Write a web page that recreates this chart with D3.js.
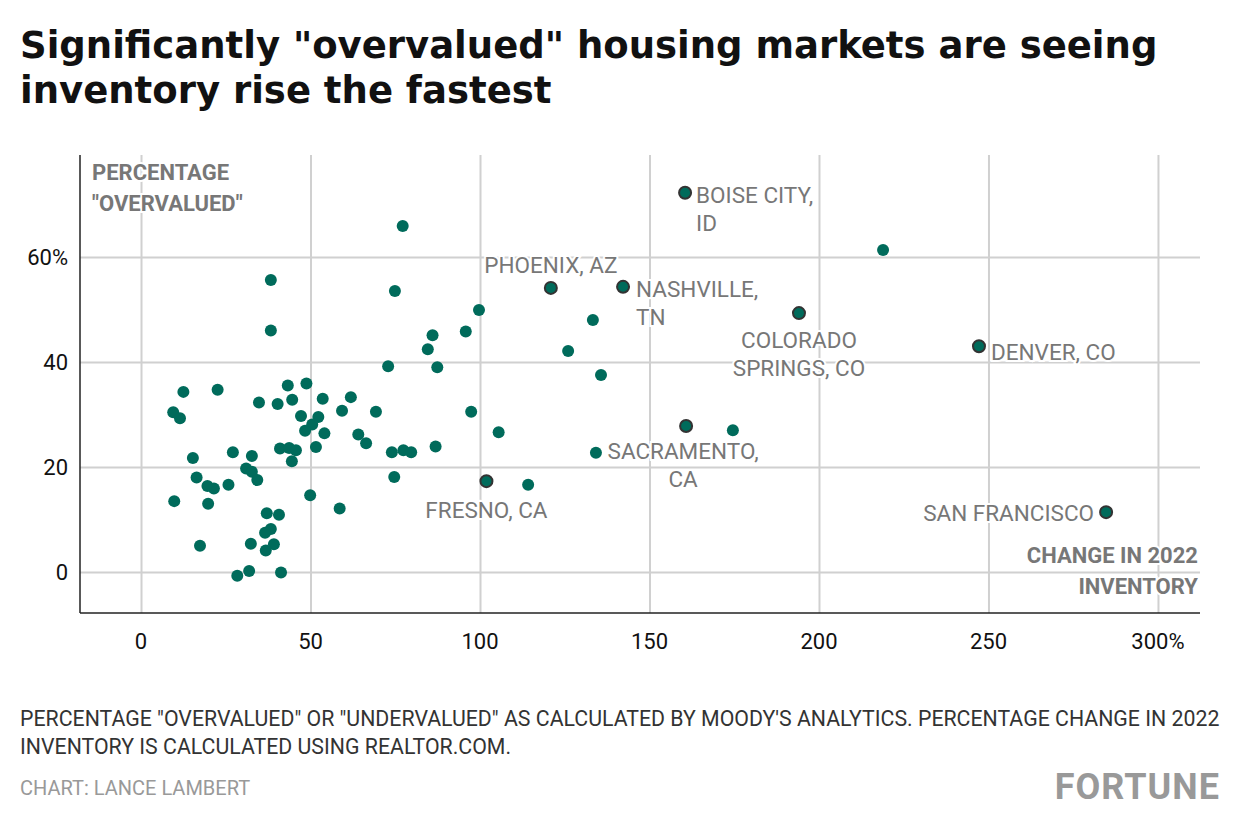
<!DOCTYPE html>
<html><head><meta charset="utf-8">
<script src="https://cdn.jsdelivr.net/npm/d3@7"></script>
<style>body{margin:0;background:#fff}</style></head>
<body><svg id="c" width="1240" height="840"></svg>
<script>
const inventoryChange=[77.2,38.3,74.9,99.7,38.3,86.0,95.8,84.6,72.9,87.4,12.5,22.6,43.3,48.8,34.8,40.3,44.6,53.6,61.9,9.5,11.5,59.3,69.3,47.2,52.3,50.5,48.4,54.1,97.4,105.5,64.1,66.4,86.9,51.6,41.0,43.7,45.7,44.5,27.1,32.7,15.3,74.0,77.4,79.7,31.0,32.7,34.3,16.4,19.6,21.5,25.8,74.7,9.8,19.8,49.9,58.6,37.1,40.7,38.3,36.6,17.4,32.4,39.2,36.8,28.4,31.9,41.3,133.3,126.0,135.7,134.2,114.2,174.6,218.9];
const overvalued=[65.9,55.6,53.5,49.9,46.0,45.1,45.8,42.4,39.2,39.0,34.3,34.7,35.5,35.9,32.3,32.0,32.8,33.0,33.3,30.4,29.3,30.7,30.5,29.7,29.5,28.1,26.9,26.4,30.5,26.6,26.2,24.5,23.9,23.8,23.5,23.6,23.2,21.1,22.8,22.1,21.7,22.8,23.2,22.8,19.7,19.1,17.5,18.0,16.4,15.9,16.6,18.1,13.5,13.0,14.6,12.1,11.2,10.9,8.2,7.5,5.0,5.4,5.3,4.1,-0.7,0.2,-0.1,48.0,42.1,37.5,22.7,16.6,27.0,61.3];
const cities=["BOISE CITY,|ID","PHOENIX, AZ","NASHVILLE,|TN","COLORADO|SPRINGS, CO","DENVER, CO","SACRAMENTO,|CA","FRESNO, CA","SAN FRANCISCO"];
const cityX=[160.5,120.9,142.2,194.1,247.2,160.8,101.9,284.7];
const cityY=[72.2,54.1,54.3,49.3,43.0,27.8,17.3,11.4];
const xTicks=[0,50,100,150,200,250,300];
const yTicks=[0,20,40,60];

const svg=d3.select("#c");
const F='Roboto,sans-serif';
const x=d3.scaleLinear().domain([-18,312.4]).range([80,1200]);
const y=d3.scaleLinear().domain([-7.8,79.4]).range([613,155]);
const green="#006b5b";

[['Significantly "overvalued" housing markets are seeing',58],['inventory rise the fastest',103]].forEach(([t,yy])=>
 svg.append("text").attr("x",20).attr("y",yy).attr("font-family","DejaVu Sans,sans-serif").attr("font-weight",700).attr("font-size",37).attr("fill","#111").text(t));

const g=svg.append("g");
g.append("g").attr("transform","translate(0,613)").call(d3.axisBottom(x).tickValues(xTicks).tickSize(-458).tickFormat(""))
 .call(a=>{a.selectAll("line").attr("stroke","#d0d0d0").attr("stroke-width",2);a.select(".domain").remove();});
g.append("g").attr("transform","translate(80,0)").call(d3.axisLeft(y).tickValues(yTicks).tickSize(-1120).tickFormat(""))
 .call(a=>{a.selectAll("line").attr("stroke","#d0d0d0").attr("stroke-width",2);a.select(".domain").remove();});
g.append("line").attr("x1",80).attr("x2",80).attr("y1",155).attr("y2",613).attr("stroke","#222").attr("stroke-width",1.5);
g.append("line").attr("x1",80).attr("x2",1200).attr("y1",613).attr("y2",613).attr("stroke","#222").attr("stroke-width",1.5);

xTicks.forEach(t=>svg.append("text").attr("x",x(t)).attr("y",649).attr("text-anchor","middle").attr("font-family",F).attr("font-size",22).attr("fill","#111").text(t===300?"300%":t));
yTicks.forEach(t=>svg.append("text").attr("x",68).attr("y",y(t)+8).attr("text-anchor","end").attr("font-family",F).attr("font-size",22).attr("fill","#111").text(t===60?"60%":t));

svg.selectAll(".d").data(inventoryChange).enter().append("circle").attr("cx",d=>x(d)).attr("cy",(d,i)=>y(overvalued[i])).attr("r",6).attr("fill",green);

const off=[[11,10,"start"],[0,-15,"middle"],[13,10,"start"],[0,35,"middle"],[12,14,"start"],[-3,33,"middle"],[0,37,"middle"],[-12,9,"end"]];
cities.forEach((c,i)=>{
  c.split("|").forEach((l,j)=>{
    const o=off[i];
    svg.append("text").attr("x",x(cityX[i])+o[0]).attr("y",y(cityY[i])+o[1]+j*28).attr("text-anchor",o[2]).attr("font-family",F).attr("font-size",22.5)
      .attr("fill","#777").attr("stroke","#fff").attr("stroke-width",4).attr("paint-order","stroke").text(l);
  });
});
svg.selectAll(".h").data(cityX).enter().append("circle").attr("cx",d=>x(d)).attr("cy",(d,i)=>y(cityY[i])).attr("r",6).attr("fill",green).attr("stroke","#333").attr("stroke-width",2);

const lab=(tx,xx,yy,anc)=>svg.append("text").attr("x",xx).attr("y",yy).attr("text-anchor",anc).attr("font-family",F).attr("font-weight",700).attr("font-size",22).attr("fill","#777").attr("stroke","#fff").attr("stroke-width",4).attr("paint-order","stroke").text(tx);
lab("PERCENTAGE",92,180,"start");lab('"OVERVALUED"',92,211,"start");
lab("CHANGE IN 2022",1198,563,"end");lab("INVENTORY",1198,594,"end");

svg.append("text").attr("x",20).attr("y",726).attr("font-family",F).attr("font-size",21.3).attr("fill","#333").text('PERCENTAGE "OVERVALUED" OR "UNDERVALUED" AS CALCULATED BY MOODY\'S ANALYTICS. PERCENTAGE CHANGE IN 2022');
svg.append("text").attr("x",20).attr("y",754).attr("font-family",F).attr("font-size",21.3).attr("fill","#333").text('INVENTORY IS CALCULATED USING REALTOR.COM.');
svg.append("text").attr("x",20).attr("y",795).attr("font-family",F).attr("font-size",20).attr("fill","#999").text('CHART: LANCE LAMBERT');
svg.append("text").attr("x",1220).attr("y",799).attr("text-anchor","end").attr("font-family",F).attr("font-weight",700).attr("font-size",36).attr("fill","#999").attr("letter-spacing",1).text('FORTUNE');
</script></body></html>
